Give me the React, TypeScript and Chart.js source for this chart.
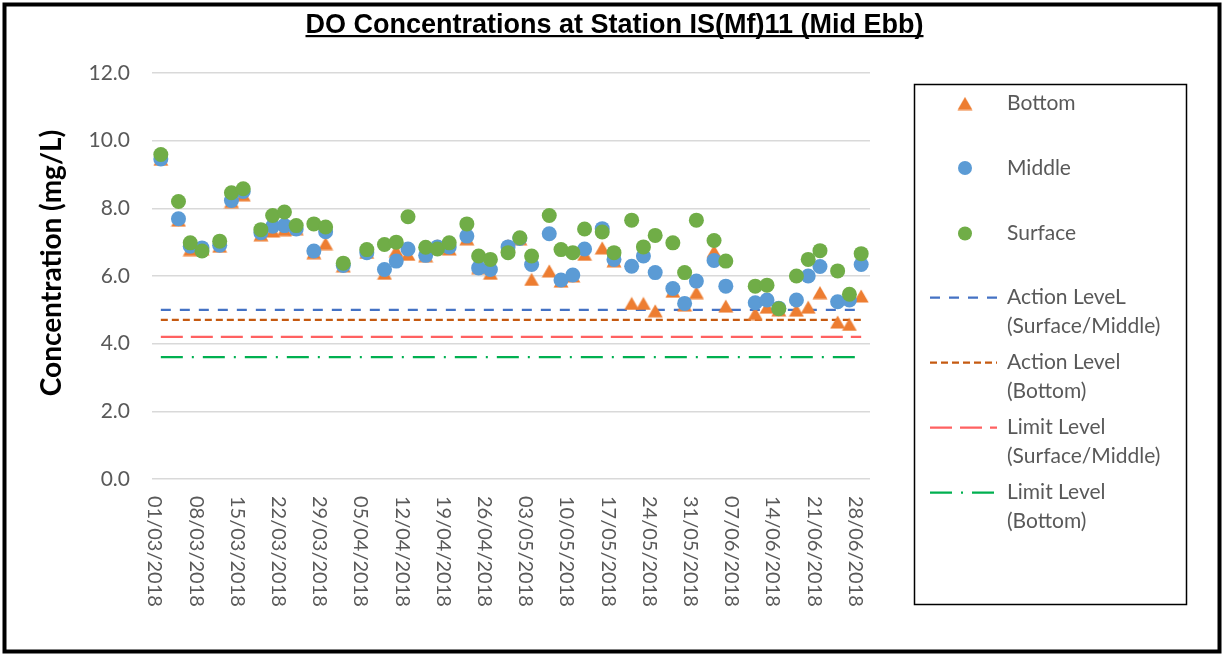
import React, { useEffect, useRef } from "react";
import { Chart, registerables } from "chart.js";

Chart.register(...registerables);

// ---------------- data ----------------
const sampleDates = [
  "02/03/2018", "05/03/2018", "07/03/2018", "09/03/2018", "12/03/2018", "14/03/2018", "16/03/2018",
  "19/03/2018", "21/03/2018", "23/03/2018", "25/03/2018", "28/03/2018", "30/03/2018",
  "02/04/2018", "06/04/2018", "09/04/2018", "11/04/2018", "13/04/2018", "16/04/2018", "18/04/2018",
  "20/04/2018", "23/04/2018", "25/04/2018", "27/04/2018", "30/04/2018",
  "02/05/2018", "04/05/2018", "07/05/2018", "09/05/2018", "11/05/2018", "13/05/2018", "16/05/2018",
  "18/05/2018", "21/05/2018", "23/05/2018", "25/05/2018", "28/05/2018", "30/05/2018",
  "01/06/2018", "04/06/2018", "06/06/2018", "11/06/2018", "13/06/2018", "15/06/2018", "18/06/2018",
  "20/06/2018", "22/06/2018", "25/06/2018", "27/06/2018", "29/06/2018",
];

const bottomDO = [
  9.45, 7.65, 6.78, 6.8, 6.88, 8.2, 8.4, 7.22, 7.33, 7.37, 7.4, 6.69, 6.96,
  6.3, 6.7, 6.08, 6.75, 6.64, 6.6, 6.9, 6.8, 7.1, 6.25, 6.08, 6.9,
  7.1, 5.9, 6.15, 5.85, 6.0, 6.64, 6.83, 6.45, 5.19, 5.19, 4.97, 5.55, 5.14,
  5.51, 6.73, 5.11, 4.89, 5.08, 5.0, 4.99, 5.08, 5.51, 4.64, 4.57, 5.41,
];

const middleDO = [
  9.46, 7.69, 6.88, 6.83, 6.91, 8.23, 8.5, 7.28, 7.47, 7.49, 7.39, 6.74, 7.31,
  6.31, 6.69, 6.19, 6.44, 6.8, 6.61, 6.86, 6.86, 7.18, 6.24, 6.19, 6.86,
  7.11, 6.34, 7.25, 5.88, 6.03, 6.8, 7.4, 6.49, 6.29, 6.59, 6.1, 5.63, 5.19,
  5.85, 6.46, 5.7, 5.21, 5.29, 5.05, 5.29, 6.0, 6.28, 5.24, 5.29, 6.34,
];

const surfaceDO = [
  9.59, 8.2, 6.98, 6.74, 7.03, 8.46, 8.58, 7.37, 7.79, 7.89, 7.49, 7.54, 7.45,
  6.38, 6.78, 6.93, 7.0, 7.75, 6.85, 6.8, 6.98, 7.54, 6.59, 6.49, 6.69,
  7.13, 6.59, 7.79, 6.78, 6.69, 7.39, 7.3, 6.69, 7.65, 6.86, 7.2, 6.98, 6.1,
  7.65, 7.05, 6.44, 5.7, 5.73, 5.03, 6.0, 6.49, 6.75, 6.15, 5.46, 6.66,
];

const actionLevelSurfaceMiddle = 5.0;
const actionLevelBottom = 4.7;
const limitLevelSurfaceMiddle = 4.2;
const limitLevelBottom = 3.6;

const xTickLabels = [
  "01/03/2018", "08/03/2018", "15/03/2018", "22/03/2018", "29/03/2018", "05/04/2018",
  "12/04/2018", "19/04/2018", "26/04/2018", "03/05/2018", "10/05/2018", "17/05/2018",
  "24/05/2018", "31/05/2018", "07/06/2018", "14/06/2018", "21/06/2018", "28/06/2018",
];
const xAxisStart = "01/03/2018";
const xAxisEnd = "30/06/2018";

const yMin = 0;
const yMax = 12;
const yStep = 2;

const chartTitle = "DO Concentrations at Station IS(Mf)11 (Mid Ebb)";
const yAxisTitle = "Concentration (mg/L)";
const seriesNames = ["Bottom", "Middle", "Surface"];
const levelNames = [
  ["Action LeveL", "(Surface/Middle)"],
  ["Action Level", "(Bottom)"],
  ["Limit Level", "(Surface/Middle)"],
  ["Limit Level", "(Bottom)"],
];

// ---------------- helpers ----------------
const ORANGE = "#ED7D31";
const BLUE = "#5B9BD5";
const GREEN = "#70AD47";
const LEVEL_STYLES = [
  { color: "#4472C4", dash: [10, 9] },
  { color: "#C55A11", dash: [7, 4] },
  { color: "#FF6161", dash: [22, 8] },
  { color: "#00B050", dash: [22, 9, 2, 9] },
];

const startMs = (() => {
  const [d, m, y] = xAxisStart.split("/").map(Number);
  return Date.UTC(y, m - 1, d);
})();
function dayOf(s: string): number {
  const [d, m, y] = s.split("/").map(Number);
  return Math.round((Date.UTC(y, m - 1, d) - startMs) / 86400000);
}
function toPoints(values: number[]) {
  return sampleDates.map((s, i) => ({ x: dayOf(s), y: values[i] }));
}

function makeTriangle(color: string): HTMLCanvasElement {
  const c = document.createElement("canvas");
  c.width = 16;
  c.height = 14;
  const g = c.getContext("2d")!;
  g.fillStyle = color;
  g.beginPath();
  g.moveTo(8, 0.5);
  g.lineTo(15.5, 13.5);
  g.lineTo(0.5, 13.5);
  g.closePath();
  g.fill();
  return c;
}

export default function App() {
  const ref = useRef<HTMLCanvasElement>(null);

  useEffect(() => {
    document.body.style.margin = "0";
    const canvas = ref.current!;
    const tri = makeTriangle(ORANGE);
    const firstDay = dayOf(sampleDates[0]);
    const lastDay = dayOf(sampleDates[sampleDates.length - 1]);
    const levels = [actionLevelSurfaceMiddle, actionLevelBottom, limitLevelSurfaceMiddle, limitLevelBottom];

    const levelDatasets = levels.map((v, i) => ({
      label: levelNames[i].join(" "),
      data: [{ x: firstDay, y: v }, { x: lastDay, y: v }],
      showLine: true,
      pointRadius: 0,
      borderColor: LEVEL_STYLES[i].color,
      backgroundColor: LEVEL_STYLES[i].color,
      borderWidth: 2.25,
      borderDash: LEVEL_STYLES[i].dash,
      fill: false,
      order: 3 + i,
    }));

    const decor = {
      id: "decor",
      afterDraw(chart: any) {
        const ctx: CanvasRenderingContext2D = chart.ctx;
        const xs = chart.scales.x;
        const area = chart.chartArea;
        ctx.save();

        // x tick labels (rotated 270deg, read top->bottom)
        ctx.fillStyle = "#595959";
        ctx.font = "20px Lato";
        ctx.textAlign = "left";
        ctx.textBaseline = "middle";
        xTickLabels.forEach((lbl) => {
          const px = xs.getPixelForValue(dayOf(lbl));
          ctx.save();
          ctx.translate(px, area.bottom + 17);
          ctx.rotate(Math.PI / 2);
          ctx.fillText(lbl, 0, 0);
          ctx.restore();
        });

        // y axis title
        ctx.save();
        ctx.fillStyle = "#000";
        ctx.font = "bold 28px Lato";
        ctx.textAlign = "center";
        ctx.textBaseline = "middle";
        ctx.translate(52, 263);
        ctx.rotate(-Math.PI / 2);
        ctx.fillText(yAxisTitle, 0, 0);
        ctx.restore();

        // chart title, underlined
        ctx.fillStyle = "#000";
        ctx.font = "bold 27px 'Liberation Sans'";
        ctx.textAlign = "center";
        ctx.textBaseline = "alphabetic";
        const cx = 614.5;
        ctx.fillText(chartTitle, cx, 33);
        const w = ctx.measureText(chartTitle).width;
        ctx.fillRect(cx - w / 2, 35, w, 2.2);

        // legend box
        ctx.strokeStyle = "#000";
        ctx.lineWidth = 1.5;
        ctx.strokeRect(914.5, 84.5, 272, 520);

        ctx.font = "21px Lato";
        ctx.fillStyle = "#595959";
        ctx.textAlign = "left";
        ctx.textBaseline = "middle";
        const symX = 965;
        const textX = 1007;
        const seriesY = [103.5, 168, 233.5];
        // Bottom
        ctx.drawImage(tri, symX - tri.width / 2, seriesY[0] - tri.height / 2);
        // Middle / Surface
        [BLUE, GREEN].forEach((col, i) => {
          ctx.beginPath();
          ctx.fillStyle = col;
          ctx.arc(symX, seriesY[i + 1], 7, 0, Math.PI * 2);
          ctx.fill();
        });
        ctx.fillStyle = "#595959";
        seriesNames.forEach((n, i) => ctx.fillText(n, textX, seriesY[i]));

        const levelY = [297.5, 362.5, 427.5, 492.5];
        levelNames.forEach((lines, i) => {
          ctx.save();
          ctx.strokeStyle = LEVEL_STYLES[i].color;
          ctx.lineWidth = 2.25;
          ctx.setLineDash(LEVEL_STYLES[i].dash);
          ctx.beginPath();
          ctx.moveTo(930, levelY[i]);
          ctx.lineTo(997, levelY[i]);
          ctx.stroke();
          ctx.restore();
          lines.forEach((t, j) => ctx.fillText(t, textX, levelY[i] + j * 28.7));
        });

        // outer frame
        ctx.strokeStyle = "#000";
        ctx.lineWidth = 4;
        ctx.strokeRect(4.5, 4.5, 1215, 647);
        ctx.restore();
      },
    };

    const chart = new Chart(canvas, {
      type: "scatter",
      data: {
        datasets: [
          {
            label: seriesNames[0],
            data: toPoints(bottomDO),
            pointStyle: tri as any,
            pointRadius: 8,
            backgroundColor: ORANGE,
            borderColor: ORANGE,
            borderWidth: 0,
            order: 2,
          },
          {
            label: seriesNames[1],
            data: toPoints(middleDO),
            pointStyle: "circle",
            pointRadius: 7.5,
            backgroundColor: BLUE,
            borderColor: BLUE,
            borderWidth: 0,
            order: 1,
          },
          {
            label: seriesNames[2],
            data: toPoints(surfaceDO),
            pointStyle: "circle",
            pointRadius: 7.5,
            backgroundColor: GREEN,
            borderColor: GREEN,
            borderWidth: 0,
            order: 0,
          },
          ...levelDatasets,
        ] as any,
      },
      options: {
        responsive: false,
        animation: false,
        layout: { padding: { top: 73, left: 0, right: 354, bottom: 0 } },
        plugins: {
          legend: { display: false },
          tooltip: { enabled: false },
          title: { display: false },
        },
        scales: {
          x: {
            type: "linear",
            min: dayOf(xAxisStart) - 0.5,
            max: dayOf(xAxisEnd) + 0.5,
            ticks: { display: false },
            grid: { display: false },
            border: { display: false },
            afterFit: (s: any) => {
              s.height = 177;
            },
          },
          y: {
            min: yMin,
            max: yMax,
            ticks: {
              stepSize: yStep,
              callback: (v: any) => Number(v).toFixed(1),
              font: { family: "Lato", size: 21 },
              color: "#595959",
              padding: 22,
            },
            grid: { color: "#D9D9D9", lineWidth: 1.5, drawTicks: false },
            border: { display: false },
            afterFit: (s: any) => {
              s.width = 152;
            },
          },
        },
      } as any,
      plugins: [decor],
    });

    return () => chart.destroy();
  }, []);

  return <canvas ref={ref} width={1224} height={656} style={{ display: "block" }} />;
}
